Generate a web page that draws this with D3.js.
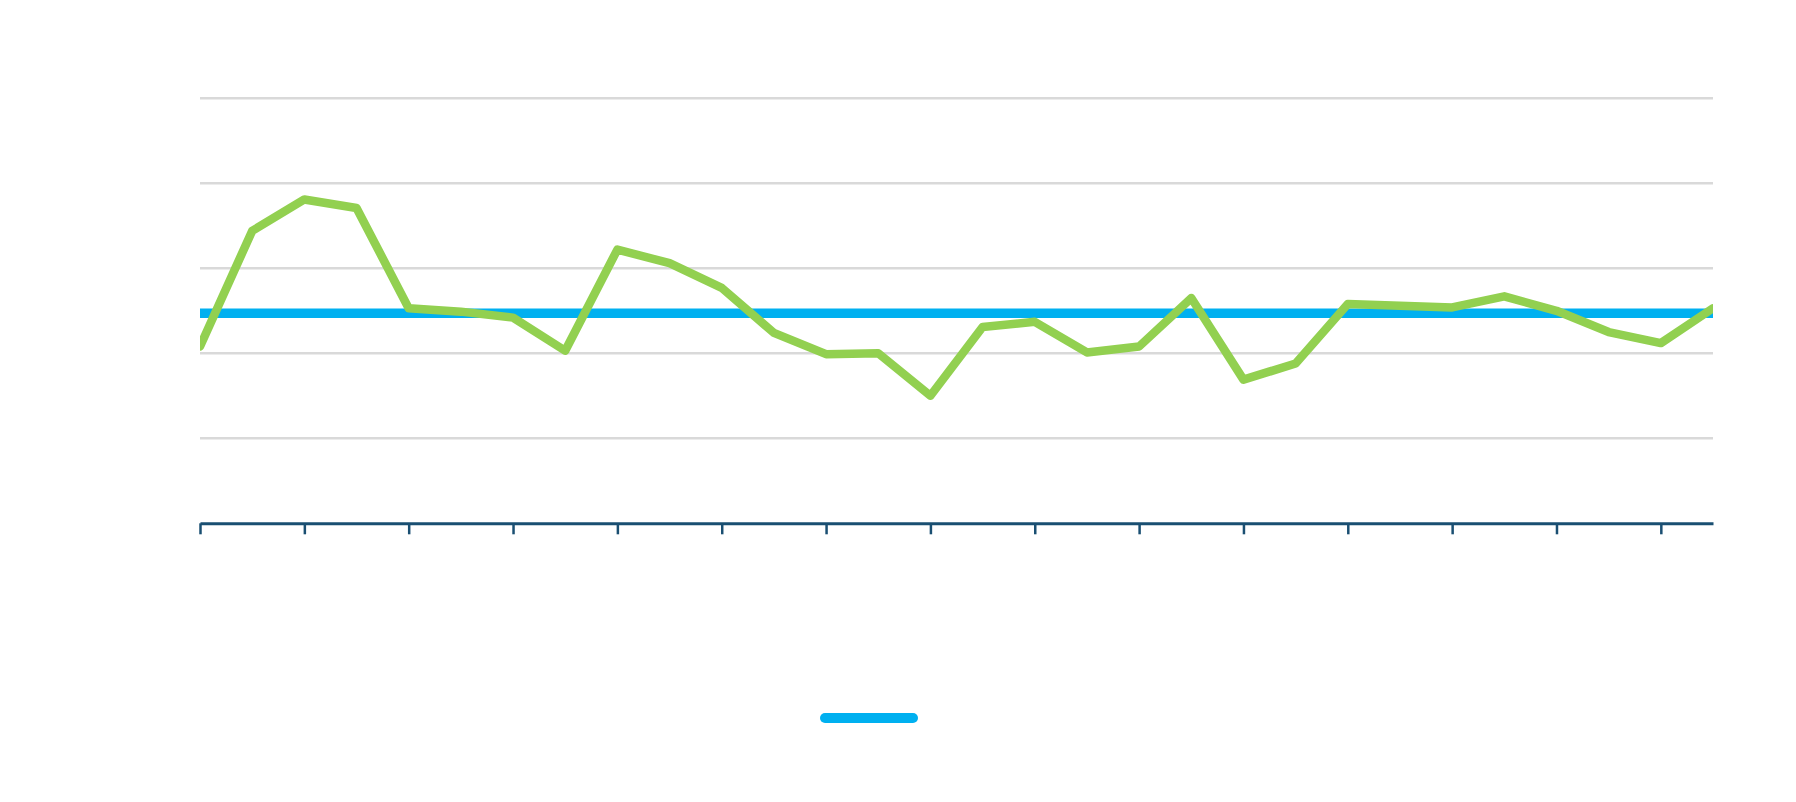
<!DOCTYPE html>
<html>
<head>
<meta charset="utf-8">
<script src="https://cdn.jsdelivr.net/npm/d3@7/dist/d3.min.js"></script>
<style>
  html, body { margin: 0; padding: 0; background: #ffffff; }
  svg { display: block; }
</style>
</head>
<body>
<svg id="chart" width="1796" height="802"></svg>
<script>
// ---- data ----
const categories = ["1","2","3","4","5","6","7","8","9","10","11","12","13","14","15",
                    "16","17","18","19","20","21","22","23","24","25","26","27","28","29","30"];
const actualValues = [2.08, 3.44, 3.81, 3.71, 2.53, 2.49, 2.42, 2.03, 3.22, 3.06,
                      2.77, 2.24, 1.99, 2.00, 1.50, 2.31, 2.37, 2.01, 2.08, 2.65,
                      1.69, 1.88, 2.58, 2.56, 2.54, 2.67, 2.50, 2.25, 2.12, 2.53];
const targetValues = [2.47, 2.47, 2.47, 2.47, 2.47, 2.47, 2.47, 2.47, 2.47, 2.47,
                      2.47, 2.47, 2.47, 2.47, 2.47, 2.47, 2.47, 2.47, 2.47, 2.47,
                      2.47, 2.47, 2.47, 2.47, 2.47, 2.47, 2.47, 2.47, 2.47, 2.47];
const yTicks = [1, 2, 3, 4, 5];
const xTickCategories = ["1","3","5","7","9","11","13","15","17","19","21","23","25","27","29"];

(function () {
  // ---- layout ----
  const svg = d3.select("#chart");
  const plotLeft = 200, plotRight = 1713, plotTop = 98.3, plotBottom = 523.3;

  const x = d3.scalePoint().domain(categories).range([plotLeft, plotRight]);
  const y = d3.scaleLinear().domain([0, 5]).range([plotBottom, plotTop]);

  svg.append("defs").append("clipPath").attr("id", "plotClip")
    .append("rect").attr("x", plotLeft).attr("y", 0)
    .attr("width", plotRight - plotLeft).attr("height", 802);

  // gridlines
  svg.append("g").selectAll("line").data(yTicks).join("line")
    .attr("x1", plotLeft).attr("x2", plotRight)
    .attr("y1", d => y(d)).attr("y2", d => y(d))
    .attr("stroke", "#d9d9d9").attr("stroke-width", 2.5);

  // x axis
  const xAxis = d3.axisBottom(x).tickValues(xTickCategories).tickSize(11).tickSizeOuter(0).tickFormat("");
  const gx = svg.append("g").attr("transform", `translate(0,${plotBottom})`).call(xAxis);
  gx.select(".domain").attr("stroke", "#1a4f72").attr("stroke-width", 3);
  gx.selectAll(".tick line").attr("stroke", "#1a4f72").attr("stroke-width", 2.5);

  const plot = svg.append("g").attr("clip-path", "url(#plotClip)");

  // target line
  plot.append("path")
    .datum(targetValues)
    .attr("fill", "none")
    .attr("stroke", "#00b0f0")
    .attr("stroke-width", 9.5)
    .attr("d", d3.line().x((d, i) => x(categories[i])).y(d => y(d)));

  // actual line
  plot.append("path")
    .datum(actualValues)
    .attr("fill", "none")
    .attr("stroke", "#92d050")
    .attr("stroke-width", 8.5)
    .attr("stroke-linejoin", "round")
    .attr("stroke-linecap", "round")
    .attr("d", d3.line().x((d, i) => x(categories[i])).y(d => y(d)));

  // legend (single entry, no text)
  svg.append("line")
    .attr("x1", 825).attr("x2", 913)
    .attr("y1", 718).attr("y2", 718)
    .attr("stroke", "#00b0f0")
    .attr("stroke-width", 10)
    .attr("stroke-linecap", "round");
})();
</script>
</body>
</html>
